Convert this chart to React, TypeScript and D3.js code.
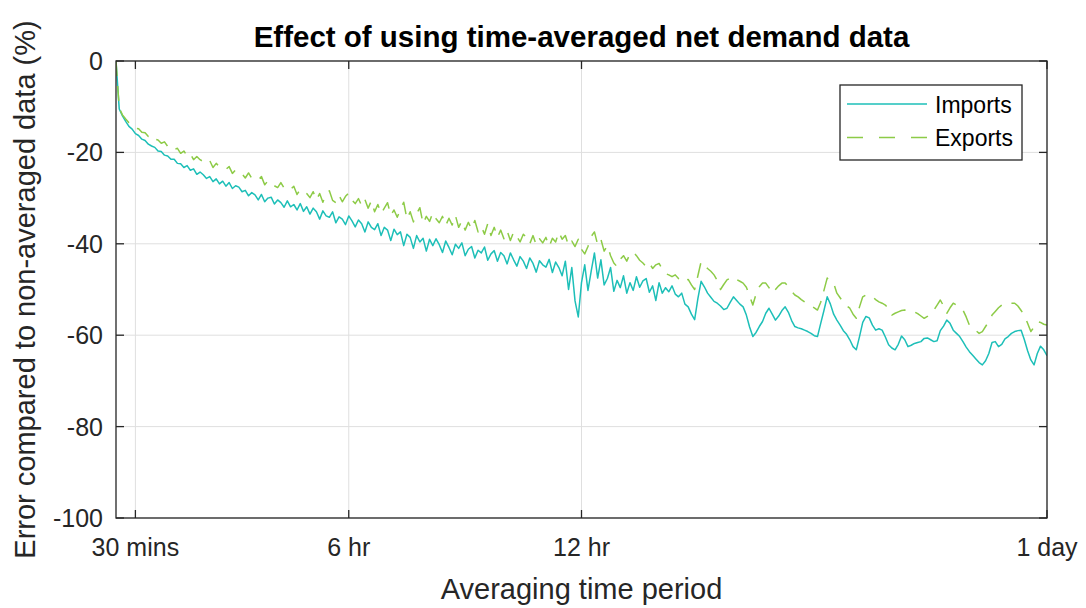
import React from 'react';
import * as d3 from 'd3';

// Averaging period sampled every STEP_MIN minutes, from 0 to 1440 (1 day)
const STEP_MIN = 5;

const seriesNames = ['Imports', 'Exports'];

// Error (%) compared to non-averaged data, imports
const importsError = [
  0, -10.5, -12.0, -13.2, -14.3, -14.9, -15.9, -16.3, -17.1, -17.4,
  -18.2, -18.6, -18.9, -19.7, -19.8, -20.6, -20.8, -21.5, -21.5, -22.4,
  -22.5, -23.3, -22.9, -23.9, -23.6, -24.8, -24.3, -24.9, -25.7, -25.3,
  -26.4, -25.8, -26.9, -26.3, -27.4, -26.6, -27.9, -27.3, -27.6, -28.6,
  -28.3, -29.5, -28.8, -29.3, -30.4, -29.2, -30.8, -30.0, -29.8, -31.3,
  -30.4, -31.0, -32.0, -30.6, -31.9, -31.4, -32.6, -31.2, -32.9, -31.9,
  -33.5, -32.2, -33.0, -34.6, -32.8, -33.9, -34.2, -33.0, -35.4, -34.1,
  -34.6, -35.8, -33.9, -35.0, -36.3, -34.8, -35.6, -37.4, -35.2, -36.4,
  -36.9, -35.6, -38.2, -36.4, -37.0, -39.3, -36.8, -38.0, -37.4, -40.4,
  -37.9, -38.6, -41.0, -38.2, -39.6, -38.8, -41.6, -39.0, -40.4, -38.9,
  -40.2, -41.9, -39.4, -40.8, -42.4, -40.1, -41.0, -39.8, -42.6, -41.2,
  -40.6, -43.1, -41.4, -42.0, -40.7, -43.6, -42.2, -41.5, -43.8, -41.9,
  -42.6, -44.4, -42.0, -43.5, -44.9, -42.8, -43.8, -45.4, -43.1, -44.3,
  -46.2, -43.7, -44.6, -45.1, -43.4, -46.3, -44.0, -45.2, -47.0, -43.8,
  -50.0, -45.2, -52.5, -56.0, -48.5, -44.6, -50.2, -46.0, -42.0, -47.5,
  -43.5, -49.0, -47.6, -45.2, -50.4, -48.0, -49.6, -47.0, -50.8, -48.5,
  -50.2, -47.2, -49.5, -48.1, -47.6, -50.6, -49.2, -52.4, -48.5, -50.8,
  -49.6, -50.5, -49.2, -51.0, -51.6, -50.8, -53.2, -53.8, -55.4, -56.6,
  -52.0, -48.2, -49.4, -50.8, -51.7, -52.6, -53.0, -53.6, -54.4, -54.1,
  -52.8, -51.6, -52.4, -53.2, -53.8, -55.6, -58.2, -60.3, -59.4, -58.1,
  -57.0, -55.2, -54.1, -55.4, -56.7, -55.8, -54.6, -53.8, -55.0, -56.8,
  -58.1, -58.4, -58.6, -58.9, -59.2, -59.6, -60.1, -60.3, -57.4, -54.6,
  -51.6, -53.2, -55.4, -56.7, -57.8, -59.0, -59.8, -61.0, -62.5, -63.2,
  -60.3, -57.2, -55.9, -56.2, -57.8, -58.9, -58.6, -58.9, -60.4, -62.1,
  -62.8, -63.2, -62.0, -60.2, -61.0, -62.5, -62.2, -61.8, -61.6, -61.4,
  -60.7, -60.6, -61.0, -61.4, -61.2, -59.0, -58.0, -56.7, -57.4, -58.9,
  -59.6, -60.3, -61.4, -62.6, -63.6, -64.4, -65.2, -66.0, -66.5, -65.6,
  -64.0, -61.6, -61.4, -62.5, -62.0, -60.8, -60.3, -59.6, -59.2, -59.0,
  -58.9, -61.0, -63.4, -65.4, -66.5, -64.0, -62.4, -63.2, -64.5,
];

// Error (%) compared to non-averaged data, exports
const exportsError = [
  0, -10.3, -11.8, -12.7, -13.5, -13.9, -14.7, -14.8, -15.6, -15.7,
  -16.5, -16.2, -17.1, -17.3, -18.0, -17.7, -18.7, -18.6, -19.4, -19.1,
  -20.2, -19.7, -20.8, -20.3, -21.6, -20.9, -21.6, -22.0, -22.4, -21.8,
  -23.3, -22.4, -23.2, -23.4, -23.7, -23.1, -24.6, -23.8, -24.4, -24.7,
  -25.6, -24.5, -25.7, -25.6, -26.0, -25.3, -27.1, -26.2, -26.6, -27.3,
  -27.7, -26.6, -27.8, -27.6, -28.1, -27.4, -29.2, -28.1, -28.6, -29.0,
  -29.9, -28.6, -30.4, -29.0, -30.9, -29.2, -28.4, -30.5, -31.0, -29.4,
  -30.8, -29.6, -28.9, -30.4, -31.2, -30.1, -31.7, -30.3, -32.2, -30.6,
  -33.0, -31.4, -33.4, -32.2, -31.0, -33.8, -32.6, -34.2, -32.4, -30.9,
  -34.6, -33.0, -35.2, -33.4, -32.1, -35.6, -34.0, -35.1, -33.2, -34.5,
  -35.4, -34.0, -36.0, -34.4, -35.9, -33.8, -36.4, -35.0, -37.0, -35.3,
  -36.8, -34.9, -37.4, -36.2, -37.9, -35.6, -38.2, -36.4, -38.6, -37.0,
  -38.9, -37.2, -39.3, -37.4, -38.4, -39.6, -37.9, -38.6, -40.0, -38.2,
  -40.3, -38.9, -39.8, -38.6, -40.6, -38.8, -39.6, -37.4, -39.0, -38.2,
  -40.4, -39.4, -40.6, -39.0, -41.2, -42.2, -40.6, -38.4, -37.4, -40.2,
  -39.0, -41.6, -40.4, -42.6, -44.2, -45.0, -43.4, -42.6, -43.8, -42.2,
  -41.8, -42.6, -43.6, -44.2, -45.0, -44.2, -45.4, -44.6, -44.3, -45.6,
  -46.5, -46.8, -47.2, -46.8, -47.6, -47.9, -48.4, -47.8, -49.0, -50.0,
  -47.0, -43.9, -44.6, -45.4, -46.0, -46.8, -48.0, -50.0, -48.9, -47.9,
  -47.5, -47.2, -47.8, -48.2, -48.6, -49.5, -51.4, -53.4, -51.0, -49.4,
  -48.6, -48.6, -49.6, -50.8, -50.0, -49.2, -48.6, -48.6, -49.4, -50.4,
  -51.2, -51.6, -52.2, -52.7, -53.2, -53.6, -54.0, -54.5, -52.8, -50.2,
  -47.5, -48.2, -48.6, -50.8, -51.8, -52.8, -53.6, -54.1, -55.4, -56.3,
  -53.8, -51.6, -51.2, -51.2, -51.6, -52.2, -52.7, -53.0, -53.4, -54.2,
  -55.6, -55.2, -54.9, -54.6, -54.5, -54.6, -54.8, -54.9, -55.3, -55.8,
  -56.3, -55.9, -55.2, -54.5, -53.4, -52.3, -53.6, -55.2, -54.0, -53.0,
  -53.4, -54.0, -54.5, -56.0, -57.8, -58.4, -59.0, -59.6, -59.2, -58.1,
  -57.0, -55.6, -54.8, -54.0, -53.4, -53.2, -53.0, -53.0, -53.0, -53.6,
  -54.6, -55.6, -57.4, -59.2, -58.2, -57.0, -57.2, -57.6, -57.8,
];

const xTickValues = [30, 360, 720, 1440];
const xTickLabels = ['30 mins', '6 hr', '12 hr', '1 day'];
const yTickValues = [0, -20, -40, -60, -80, -100];

const TITLE = 'Effect of using time-averaged net demand data';
const X_LABEL = 'Averaging time period';
const Y_LABEL = 'Error compared to non-averaged data (%)';

const COLORS = ['#1dbfb8', '#8dcb47'];
const AXIS_COLOR = '#262626';
const GRID_COLOR = '#dfdfdf';
const FONT = '"Liberation Sans", Arial, Helvetica, sans-serif';

export default function App() {
  const W = 1086;
  const H = 608;
  const left = 116;
  const right = 1047;
  const top = 61;
  const bottom = 518;

  const x = d3.scaleLinear().domain([0, 1440]).range([left, right]);
  const y = d3.scaleLinear().domain([-100, 0]).range([bottom, top]);

  const line = d3
    .line<number>()
    .x((_, i) => x(i * STEP_MIN))
    .y((d) => y(d));

  const tickLen = 8;

  const legX = 840;
  const legY = 85;
  const legW = 182;
  const legH = 75;

  return (
    <svg
      width={W}
      height={H}
      style={{ position: 'absolute', left: 0, top: 0, background: '#fff' }}
      fontFamily={FONT}
    >
      <rect x={0} y={0} width={W} height={H} fill="#fff" />
      {/* grid */}
      <g stroke={GRID_COLOR} strokeWidth={1}>
        {xTickValues.map((v) => (
          <line key={'gx' + v} x1={x(v)} x2={x(v)} y1={top} y2={bottom} />
        ))}
        {yTickValues.map((v) => (
          <line key={'gy' + v} x1={left} x2={right} y1={y(v)} y2={y(v)} />
        ))}
      </g>

      {/* series */}
      <defs>
        <clipPath id="plotClip">
          <rect x={left} y={top - 1} width={right - left} height={bottom - top + 2} />
        </clipPath>
      </defs>
      <g clipPath="url(#plotClip)" fill="none" strokeLinejoin="round">
        <path d={line(importsError) || ''} stroke={COLORS[0]} strokeWidth={1.5} />
        <path
          d={line(exportsError) || ''}
          stroke={COLORS[1]}
          strokeWidth={1.5}
          strokeDasharray="15 10"
        />
      </g>

      {/* axes box */}
      <rect
        x={left}
        y={top}
        width={right - left}
        height={bottom - top}
        fill="none"
        stroke={AXIS_COLOR}
        strokeWidth={1.3}
      />
      {/* ticks */}
      <g stroke={AXIS_COLOR} strokeWidth={1.3}>
        {xTickValues.map((v) => (
          <g key={'tx' + v}>
            <line x1={x(v)} x2={x(v)} y1={bottom} y2={bottom - tickLen} />
            <line x1={x(v)} x2={x(v)} y1={top} y2={top + tickLen} />
          </g>
        ))}
        {yTickValues.map((v) => (
          <g key={'ty' + v}>
            <line x1={left} x2={left + tickLen} y1={y(v)} y2={y(v)} />
            <line x1={right} x2={right - tickLen} y1={y(v)} y2={y(v)} />
          </g>
        ))}
      </g>
      {/* tick labels */}
      <g fill={AXIS_COLOR} fontSize={25}>
        {xTickValues.map((v, i) => (
          <text key={'lx' + v} x={x(v)} y={556} textAnchor="middle">
            {xTickLabels[i]}
          </text>
        ))}
        {yTickValues.map((v) => (
          <text key={'ly' + v} x={103} y={y(v) + 9} textAnchor="end">
            {String(v)}
          </text>
        ))}
      </g>

      {/* labels */}
      <text
        x={(left + right) / 2}
        y={47}
        textAnchor="middle"
        fontSize={29.5}
        fontWeight="bold"
        fill="#000"
      >
        {TITLE}
      </text>
      <text x={(left + right) / 2} y={599} textAnchor="middle" fontSize={29} fill={AXIS_COLOR}>
        {X_LABEL}
      </text>
      <text
        transform={`translate(35, ${(top + bottom) / 2}) rotate(-90)`}
        textAnchor="middle"
        fontSize={29}
        fill={AXIS_COLOR}
      >
        {Y_LABEL}
      </text>

      {/* legend */}
      <rect x={legX} y={legY} width={legW} height={legH} fill="#fff" stroke={AXIS_COLOR} strokeWidth={1.3} />
      {seriesNames.map((name, i) => {
        const cy = legY + 19 + i * 33.5;
        return (
          <g key={name}>
            <line
              x1={legX + 7}
              x2={legX + 87}
              y1={cy}
              y2={cy}
              stroke={COLORS[i]}
              strokeWidth={1.5}
              strokeDasharray={i === 1 ? '16 16' : undefined}
            />
            <text x={legX + 95} y={cy + 8.5} fontSize={23} fill="#000">
              {name}
            </text>
          </g>
        );
      })}
    </svg>
  );
}
